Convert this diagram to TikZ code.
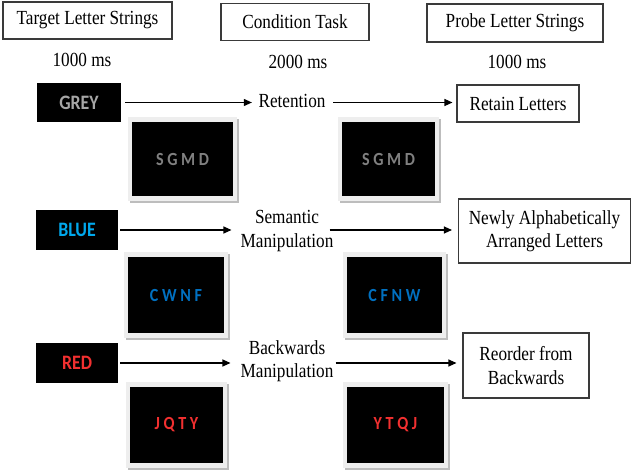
\documentclass[tikz,border=0pt]{standalone}
\usepackage{fontspec}
\setmainfont{Liberation Serif}[FakeStretch=0.86]
\newfontfamily\calfont{Carlito}[FakeStretch=0.87]
\usetikzlibrary{arrows.meta}
\definecolor{greyw}{HTML}{A6A6A6}
\definecolor{greyl}{HTML}{808080}
\definecolor{bluew}{HTML}{00A8EC}
\definecolor{bluel}{HTML}{0070C0}
\definecolor{redw}{HTML}{F23030}
\definecolor{framec}{HTML}{EEEEEE}
\definecolor{shadowc}{HTML}{BDBDBD}
\definecolor{boxline}{HTML}{3A3A3A}
\newcommand{\scr}[7]{%
  \fill[shadowc] (#2-#4/2-2, #3-#5/2-3) rectangle (#2+#4/2+5.5, #3+#5/2+7);
  \fill[framec] (#2-#4/2-4, #3-#5/2-5) rectangle (#2+#4/2+4, #3+#5/2+5);
  \node[screen, minimum width=#4pt, minimum height=#5pt, text=#6] (#1) at (#2,#3) {#7};
}
\begin{document}
\begin{tikzpicture}[x=1pt,y=-1pt,
  txt/.style={font=\fontsize{20}{23.5}\selectfont, inner sep=0pt, align=center},
  hbox/.style={txt, draw=boxline, line width=1.1pt},
  wordbox/.style={fill=black, inner sep=0pt, font=\calfont\bfseries\fontsize{20.5}{24}\selectfont},
  screen/.style={fill=black, inner sep=0pt, font=\calfont\bfseries\fontsize{18.5}{22}\selectfont},
  arr/.style={line width=1.1pt, -{Triangle[length=8pt,width=7pt]}}]
\useasboundingbox (0,0) rectangle (632,471);
% headers
\node[hbox, minimum width=169pt, minimum height=37pt] (tgt) at (87.5,20.5) {Target Letter Strings};
\node[hbox, minimum width=148pt, minimum height=37pt] (cond) at (295,22) {Condition Task};
\node[hbox, minimum width=176pt, minimum height=38pt] (probe) at (515,23) {Probe Letter Strings};
\node[txt] (t1) at (82,60) {1000 ms};
\node[txt] (t2) at (298,62) {2000 ms};
\node[txt] (t3) at (517,62) {1000 ms};
% row 1
\node[wordbox, text=greyw, minimum width=84pt, minimum height=39pt] (grey) at (79,102.5) {GREY};
\node[txt] (ret) at (292,101) {Retention};
\node[hbox, minimum width=122pt, minimum height=37pt] (retain) at (518,103.5) {Retain Letters};
\scr{s1}{182.5}{159}{101}{74}{greyl}{S G M D}
\scr{s2}{388.5}{159}{93}{74}{greyl}{S G M D}
% row 2
\node[wordbox, text=bluew, minimum width=82pt, minimum height=40pt] (blue) at (77,230) {BLUE};
\node[txt] (sem) at (287,231) {Semantic\\Manipulation};
\node[hbox, minimum width=172pt, minimum height=64pt] (newly) at (544.5,231) {Newly Alphabetically\\Arranged Letters};
\scr{s3}{176}{295}{96}{76}{bluel}{C W N F}
\scr{s4}{394.5}{295}{95}{76}{bluel}{C F N W}
% row 3
\node[wordbox, text=redw, minimum width=82pt, minimum height=40pt] (red) at (77,363) {RED};
\node[txt] (bk) at (287,361) {Backwards\\Manipulation};
\node[hbox, minimum width=126pt, minimum height=65pt] (reo) at (526,365.5) {Reorder from\\Backwards};
\scr{s5}{176.5}{425}{93}{76}{redw}{J Q T Y}
\scr{s6}{395.5}{425}{97}{76}{redw}{Y T Q J}
% arrows
\draw[arr, shorten <=4pt, shorten >=6.5pt] (grey.east) -- (grey.east -| ret.west);
\draw[arr, shorten <=7.5pt, shorten >=4pt] (grey.east -| ret.east) -- (grey.east -| retain.west);
\draw[arr, shorten <=2pt, shorten >=9pt] (blue.east) -- (blue.east -| sem.west);
\draw[arr, shorten <=-4pt, shorten >=6pt] (blue.east -| sem.east) -- (blue.east -| newly.west);
\draw[arr, shorten <=2pt, shorten >=10pt] (red.east) -- (red.east -| bk.west);
\draw[arr, shorten <=2pt, shorten >=6pt] (red.east -| bk.east) -- (red.east -| reo.west);
\end{tikzpicture}
\end{document}
